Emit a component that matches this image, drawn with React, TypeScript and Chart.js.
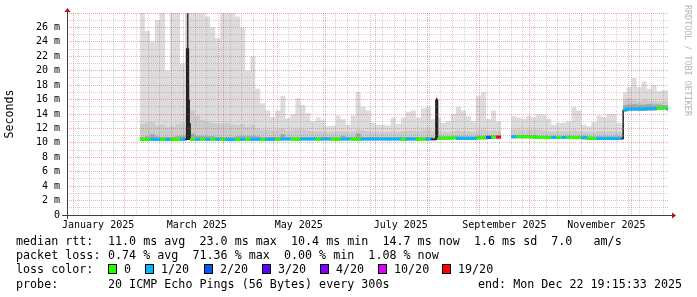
import React, { useEffect, useRef } from "react";
import { Chart, registerables } from "chart.js";

Chart.register(...registerables);

// ---------- data ----------
const dates = [
  "2025-02-10", "2025-02-13", "2025-02-16", "2025-02-19", "2025-02-22", "2025-02-25", "2025-02-28",
  "2025-03-03", "2025-03-06", "2025-03-09", "2025-03-10", "2025-03-11", "2025-03-12", "2025-03-15", "2025-03-18", "2025-03-21", "2025-03-24", "2025-03-27", "2025-03-30",
  "2025-04-02", "2025-04-05", "2025-04-08", "2025-04-11", "2025-04-14", "2025-04-17", "2025-04-20", "2025-04-23", "2025-04-26", "2025-04-29",
  "2025-05-02", "2025-05-05", "2025-05-08", "2025-05-11", "2025-05-14", "2025-05-17", "2025-05-20", "2025-05-23", "2025-05-26", "2025-05-29",
  "2025-06-01", "2025-06-04", "2025-06-07", "2025-06-10", "2025-06-13", "2025-06-16", "2025-06-19", "2025-06-22", "2025-06-25", "2025-06-28",
  "2025-07-01", "2025-07-04", "2025-07-07", "2025-07-10", "2025-07-13", "2025-07-16", "2025-07-19", "2025-07-22", "2025-07-25", "2025-07-28", "2025-07-31",
  "2025-08-03", "2025-08-06", "2025-08-07", "2025-08-09", "2025-08-12", "2025-08-15", "2025-08-18", "2025-08-21", "2025-08-24", "2025-08-27", "2025-08-30",
  "2025-09-02", "2025-09-05", "2025-09-08", "2025-09-11", "2025-09-14", "2025-09-17", "2025-09-20", "2025-09-23", "2025-09-26", "2025-09-29",
  "2025-10-02", "2025-10-05", "2025-10-08", "2025-10-11", "2025-10-14", "2025-10-17", "2025-10-20", "2025-10-23", "2025-10-26", "2025-10-29",
  "2025-11-01", "2025-11-04", "2025-11-07", "2025-11-10", "2025-11-13", "2025-11-16", "2025-11-19", "2025-11-22", "2025-11-25", "2025-11-26", "2025-11-28",
  "2025-12-01", "2025-12-04", "2025-12-07", "2025-12-10", "2025-12-13", "2025-12-16", "2025-12-19", "2025-12-22", "2025-12-22T19:15",
];

// median round trip time (ms)
const medianRtt = [
  10.45, 10.45, 10.5, 10.45, 10.5, 10.45, 10.45,
  10.45, 10.5, 10.5, 23.0, 12.6, 10.5, 10.5, 10.5, 10.5, 10.5, 10.5, 10.45,
  10.45, 10.45, 10.45, 10.5, 10.5, 10.5, 10.5, 10.45, 10.45, 10.5,
  10.5, 10.55, 10.55, 10.5, 10.5, 10.55, 10.55, 10.55, 10.5, 10.55,
  10.55, 10.5, 10.5, 10.55, 10.55, 10.5, 10.5, 10.55, 10.55, 10.55,
  10.55, 10.55, 10.55, 10.55, 10.55, 10.5, 10.55, 10.55, 10.5, 10.5, 10.55,
  10.5, 15.9, 10.6, 10.65, 10.65, 10.7, 10.6, 10.6, 10.6, 10.6, 10.7,
  10.7, 10.75, 10.8, 10.8, 10.8, null, 10.85, 10.85, 10.85, 10.85,
  10.8, 10.75, 10.75, 10.75, 10.75, 10.75, 10.75, 10.75, 10.75, 10.75,
  10.7, 10.6, 10.6, 10.6, 10.6, 10.6, 10.6, 10.6, 10.6, 14.6, 14.7,
  14.7, 14.7, 14.7, 14.75, 14.75, 14.8, 14.8, 14.7, 14.7,
];

// lost pings out of 20
const lossCount = [
  0, 0, 1, 1, 0, 1, 0,
  0, 1, 0, 1, 1, 0, 1, 0, 1, 0, 1, 0,
  1, 1, 0, 1, 0, 1, 1, 0, 1, 1,
  0, 1, 1, 0, 0, 1, 1, 1, 0, 1,
  1, 0, 0, 1, 1, 0, 0, 1, 1, 1,
  1, 1, 1, 1, 1, 0, 1, 1, 0, 0, 1,
  0, 1, 0, 0, 0, 0, 1, 1, 1, 1, 0,
  0, 2, 0, 19, 0, null, 1, 0, 0, 0,
  0, 0, 0, 0, 1, 0, 1, 0, 0, 0,
  1, 0, 0, 1, 1, 1, 1, 1, 1, 1, 1,
  1, 1, 1, 1, 1, 0, 0, 1, 1,
];

// smoke: lowest ping
const smokeLow = [
  10.3, 10.3, 10.3, 10.3, 10.3, 10.3, 10.3,
  10.3, 10.3, 10.3, 10.4, 10.4, 10.3, 10.3, 10.3, 10.3, 10.3, 10.3, 10.3,
  10.3, 10.3, 10.3, 10.3, 10.3, 10.3, 10.3, 10.3, 10.3, 10.3,
  10.3, 10.35, 10.35, 10.3, 10.3, 10.35, 10.35, 10.35, 10.3, 10.35,
  10.35, 10.3, 10.3, 10.35, 10.35, 10.3, 10.3, 10.35, 10.35, 10.35,
  10.35, 10.35, 10.35, 10.35, 10.35, 10.3, 10.35, 10.35, 10.3, 10.3, 10.35,
  10.3, 10.4, 10.4, 10.45, 10.45, 10.5, 10.4, 10.4, 10.4, 10.4, 10.5,
  10.5, 10.55, 10.6, 10.6, 10.6, null, 10.65, 10.65, 10.65, 10.65,
  10.6, 10.55, 10.55, 10.55, 10.55, 10.55, 10.55, 10.55, 10.55, 10.55,
  10.5, 10.4, 10.4, 10.4, 10.4, 10.4, 10.4, 10.4, 10.4, 14.3, 14.45,
  14.45, 14.45, 14.45, 14.5, 14.5, 14.55, 14.55, 14.45, 14.45,
];

// smoke: dense band around the median
const smokeDark = [
  10.8, 10.9, 11.2, 10.9, 10.8, 10.8, 10.8,
  10.9, 11.0, 11.2, 28, 16, 11.3, 11.0, 11.0, 10.9, 10.9, 10.8, 10.8,
  10.8, 10.8, 10.9, 11.0, 10.9, 11.0, 10.9, 10.8, 10.8, 10.8,
  10.8, 11.2, 10.8, 10.8, 10.8, 10.8, 10.8, 10.8, 10.8, 10.8,
  10.8, 10.8, 10.8, 11.0, 10.8, 10.8, 11.3, 10.8, 10.8, 10.8,
  10.8, 10.8, 10.8, 10.8, 10.8, 10.8, 10.8, 10.8, 10.8, 10.8, 10.8,
  10.8, 16.2, 10.9, 10.9, 10.9, 10.9, 11.0, 10.9, 10.9, 10.9, 11.0,
  11.0, 11.1, 11.1, 11.1, 11.1, null, 11.1, 11.1, 11.1, 11.1,
  11.1, 11.0, 11.0, 11.0, 11.0, 11.0, 11.0, 11.0, 11.0, 11.0,
  11.0, 10.9, 10.9, 10.9, 10.9, 10.9, 10.9, 10.9, 10.9, 15.2, 15.3,
  15.4, 15.3, 15.3, 15.4, 15.3, 15.3, 15.2, 15.2, 15.2,
];

// smoke: middle pings
const smokeMid = [
  12.6, 12.8, 12.9, 12.4, 12.5, 12.2, 12.3,
  12.6, 12.8, 13.5, 28, 18, 14.5, 13.8, 13.2, 13.0, 12.8, 12.6, 12.7,
  12.8, 12.5, 12.4, 12.6, 12.2, 12.5, 12.0, 11.8, 11.8, 11.7,
  11.8, 12.0, 11.6, 11.8, 11.9, 11.8, 11.7, 11.6, 11.6, 11.6,
  11.5, 11.5, 11.6, 11.6, 11.5, 11.6, 11.8, 11.7, 11.6, 11.5,
  11.5, 11.5, 11.5, 11.6, 11.5, 11.6, 11.7, 11.7, 11.6, 11.8, 11.8,
  11.6, 16.2, 11.6, 11.5, 11.5, 11.6, 11.7, 11.6, 11.6, 11.5, 11.7,
  11.8, 11.6, 11.7, 11.6, 11.7, null, 11.8, 11.8, 11.7, 11.8,
  11.8, 11.8, 11.7, 11.6, 11.5, 11.6, 11.6, 11.6, 11.7, 11.6,
  11.5, 11.5, 11.5, 11.6, 11.6, 11.6, 11.6, 11.5, 11.5, 16.0, 16.2,
  16.0, 15.8, 16.0, 15.9, 15.8, 15.7, 15.8, 15.7, 15.7,
];

// smoke: highest ping
const smokeMax = [
  28, 25.5, 24, 27, 28, 20, 28,
  28, 21, 28, 28, 28, 28, 28, 28, 27.5, 26, 24.5, 28,
  28, 28, 27.5, 26, 20, 22, 17.5, 15.5, 14.5, 13.6,
  14.5, 16.5, 13.4, 14, 16.2, 15.2, 14.1, 13, 13.5, 13.2,
  12.3, 12.4, 13.8, 13.3, 12.5, 13.8, 17, 15, 14.5, 12.8,
  12.5, 12.5, 12.4, 13.5, 12.6, 13.5, 14.3, 14.5, 13.5, 14.8, 15,
  13.3, 16.6, 13.5, 12.8, 13, 14, 15, 14.5, 13.7, 13, 16.5,
  17, 13.3, 14.5, 13, 14.2, null, 13.7, 13.5, 13.3, 13.7,
  13.5, 14, 13.9, 13.3, 12.5, 12.8, 12.8, 13, 15, 14.5,
  12.5, 12.3, 12.9, 13.8, 13.6, 14, 14, 12.8, 12.5, 17, 17.7,
  19, 17.7, 18.5, 17.5, 18, 17.2, 17.3, 17.3, 17.3,
];

// axis
const rangeStart = "2024-12-28T09:36";
const rangeEnd = "2025-12-22T19:15";
const firstWeekLine = "2025-01-04";
const monthStarts = [
  "2025-01-01", "2025-02-01", "2025-03-01", "2025-04-01", "2025-05-01", "2025-06-01",
  "2025-07-01", "2025-08-01", "2025-09-01", "2025-10-01", "2025-11-01", "2025-12-01",
];
const monthLabelDates = ["2025-01-16", "2025-03-16", "2025-05-16", "2025-07-16", "2025-09-16", "2025-11-16"];
const monthLabelTexts = ["January 2025", "March 2025", "May 2025", "July 2025", "September 2025", "November 2025"];
const yMax = 28;

// legend
const lossBuckets = [0, 1, 2, 3, 4, 10, 19];
const lossBucketLabels = ["0", "1/20", "2/20", "3/20", "4/20", "10/20", "19/20"];
const lossBucketColors = ["#26ff00", "#00b8ff", "#0059ff", "#5e00ff", "#7e00ff", "#dd00ff", "#ff0000"];
const rttStats = ["11.0 ms avg", "23.0 ms max", "10.4 ms min", "14.7 ms now", "1.6 ms sd", "7.0   am/s"];
const lossStats = ["0.74 % avg", "71.36 % max", "0.00 % min", "1.08 % now"];
const probeText = "20 ICMP Echo Pings (56 Bytes) every 300s";
const endText = "end: Mon Dec 22 19:15:33 2025";

// ---------- helpers ----------
const DAY = 86400000;
const T0 = Date.UTC(2025, 0, 1);
const dayOf = (s: string) => {
  const iso = s.length === 10 ? s + "T00:00:00Z" : s + ":00Z";
  return (Date.parse(iso) - T0) / DAY;
};
const lossColor = (n: number | null) => {
  if (n === null || n === undefined) return "rgba(0,0,0,0)";
  let c = lossBucketColors[0];
  for (let i = 0; i < lossBuckets.length; i++) if (n >= lossBuckets[i]) c = lossBucketColors[i];
  return c;
};

const MONO = '"DejaVu Sans Mono", monospace';

// layout constants (pixels)
const LEG_FONT = 11.7;
const legendRows = [241, 255, 269, 284];
const valueColX = 108;
const swatchX = [108, 145, 204, 262, 320, 378, 442];
const endX = 478;

export default function App() {
  const ref = useRef<HTMLCanvasElement | null>(null);

  useEffect(() => {
    const canvas = ref.current;
    if (!canvas) return;
    const xs = dates.map(dayOf);
    const pts = (arr: (number | null)[]) => arr.map((v, i) => ({ x: xs[i], y: v }));
    const xMin = dayOf(rangeStart);
    const xMax = dayOf(rangeEnd);

    const monthDays = monthStarts.map(dayOf);
    const labelDays = monthLabelDates.map(dayOf);
    const weekDays: number[] = [];
    for (let d = dayOf(firstWeekLine); d <= xMax; d += 7) weekDays.push(d);
    const tickSet = new Set<number>([...weekDays, ...monthDays, ...labelDays].filter((d) => d > xMin && d < xMax));
    const xTicks = Array.from(tickSet).sort((a, b) => a - b);
    const near = (a: number[], v: number) => a.findIndex((d) => Math.abs(d - v) < 1e-6);

    const GRID_MAJOR = "rgba(215,70,70,0.45)";
    const GRID_MINOR = "rgba(130,130,130,0.36)";

    const axesPlugin = {
      id: "rrdAxes",
      afterDraw(chart: any) {
        const { ctx, chartArea: a } = chart;
        const x0 = Math.round(a.left) + 0.5;
        const y0 = Math.round(a.bottom) + 0.5;
        ctx.save();
        ctx.setLineDash([]);
        ctx.strokeStyle = "#404040";
        ctx.lineWidth = 1;
        ctx.beginPath();
        ctx.moveTo(a.left - 5, y0);
        ctx.lineTo(a.right + 4, y0);
        ctx.moveTo(x0, a.bottom + 4);
        ctx.lineTo(x0, a.top - 2);
        ctx.stroke();
        ctx.fillStyle = "#a81818";
        ctx.beginPath();
        ctx.moveTo(a.right + 4, y0 - 3);
        ctx.lineTo(a.right + 8, y0);
        ctx.lineTo(a.right + 4, y0 + 3);
        ctx.closePath();
        ctx.fill();
        ctx.beginPath();
        ctx.moveTo(x0 - 3, a.top - 1);
        ctx.lineTo(x0, a.top - 5);
        ctx.lineTo(x0 + 3, a.top - 1);
        ctx.closePath();
        ctx.fill();
        ctx.restore();
      },
    };

    const chart = new Chart(canvas, {
      type: "line",
      data: {
        datasets: [
          {
            label: "median",
            data: pts(medianRtt),
            stepped: true,
            borderWidth: 3,
            borderColor: "#00b8ff",
            pointRadius: 0,
            fill: false,
            spanGaps: false,
            segment: {
              borderColor: (c: any) => {
                const a = c.p0.parsed.y;
                const b = c.p1.parsed.y;
                if (Math.abs(b - a) > 1.5) return "#202020";
                return lossColor(lossCount[c.p0DataIndex]);
              },
              borderWidth: (c: any) => (Math.abs(c.p1.parsed.y - c.p0.parsed.y) > 1.5 ? 1.5 : 3),
            },
          },
          {
            label: "smokeDark",
            data: pts(smokeDark),
            stepped: true,
            borderWidth: 0,
            pointRadius: 0,
            backgroundColor: "#a8a8a8",
            fill: 4,
            spanGaps: false,
            segment: {
              backgroundColor: (c: any) => {
                const i = c.p0DataIndex;
                const hi = smokeDark[i];
                const lo = smokeLow[i];
                return hi !== null && lo !== null && hi - lo > 4 ? "#2e2e2e" : "#a8a8a8";
              },
            },
          },
          {
            label: "smokeMid",
            data: pts(smokeMid),
            stepped: true,
            borderWidth: 0,
            pointRadius: 0,
            backgroundColor: "#cbcbcb",
            fill: 4,
            spanGaps: false,
          },
          {
            label: "smokeMax",
            data: pts(smokeMax),
            stepped: true,
            borderWidth: 0,
            pointRadius: 0,
            backgroundColor: "#dcdcdc",
            fill: 4,
            spanGaps: false,
          },
          {
            label: "smokeLow",
            data: pts(smokeLow),
            stepped: true,
            borderWidth: 0,
            pointRadius: 0,
            fill: false,
            spanGaps: false,
          },
        ],
      },
      options: {
        responsive: false,
        devicePixelRatio: 1,
        animation: false,
        events: [],
        layout: { padding: { top: 12.6, right: 29, bottom: 0, left: 0 } },
        plugins: {
          legend: { display: false },
          tooltip: { enabled: false },
        },
        scales: {
          x: {
            type: "linear",
            min: xMin,
            max: xMax,
            bounds: "data",
            afterBuildTicks: (s: any) => {
              s.ticks = xTicks.map((v) => ({ value: v }));
            },
            afterFit: (s: any) => {
              s.height = 82;
            },
            grid: {
              z: 1,
              lineWidth: 1,
              drawTicks: false,
              color: (c: any) => {
                const v = c.tick ? c.tick.value : NaN;
                if (near(monthDays, v) >= 0) return GRID_MAJOR;
                if (near(weekDays, v) >= 0) return GRID_MINOR;
                return "rgba(0,0,0,0)";
              },
            },
            border: { display: false, dash: [1, 1] },
            ticks: {
              autoSkip: false,
              maxRotation: 0,
              minRotation: 0,
              padding: 4,
              color: "#000",
              font: { family: MONO, size: 10 },
              callback: (v: any) => {
                const i = near(labelDays, Number(v));
                return i >= 0 ? monthLabelTexts[i] : "";
              },
            },
          },
          y: {
            type: "linear",
            min: 0,
            max: yMax,
            afterFit: (s: any) => {
              s.width = 67;
            },
            grid: {
              z: 1,
              lineWidth: 1,
              drawTicks: false,
              color: (c: any) => {
                const v = c.tick ? Math.round(c.tick.value) : 1;
                if (v === 0) return "rgba(0,0,0,0)";
                return v % 2 === 0 ? GRID_MAJOR : GRID_MINOR;
              },
            },
            border: { display: false, dash: [1, 1] },
            ticks: {
              stepSize: 1,
              autoSkip: false,
              padding: 7,
              color: "#000",
              font: { family: MONO, size: 10 },
              callback: (v: any) => {
                const n = Math.round(Number(v));
                if (n % 2 !== 0 || n >= yMax) return "";
                return n === 0 ? "0" : `${n} m`;
              },
            },
            title: {
              display: true,
              text: "Seconds",
              color: "#000",
              font: { family: MONO, size: 11.6 },
              padding: { top: 3, bottom: 0 },
            },
          },
        },
      },
      plugins: [axesPlugin],
    } as any);
    return () => chart.destroy();
  }, []);

  const txt = (left: number, row: number, s: string, key: string) => (
    <span
      key={key}
      style={{
        position: "absolute",
        left,
        top: row - 7,
        lineHeight: "14px",
        whiteSpace: "pre",
        fontFamily: MONO,
        fontSize: LEG_FONT,
        color: "#000",
      }}
    >
      {s}
    </span>
  );

  return (
    <div
      style={{
        position: "fixed",
        left: 0,
        top: 0,
        width: 697,
        height: 297,
        background: "#ffffff",
        overflow: "hidden",
      }}
    >
      <canvas ref={ref} width={697} height={297} style={{ position: "absolute", left: 0, top: 0, width: 697, height: 297 }} />
      <div
        style={{
          position: "absolute",
          left: 683,
          top: 5,
          writingMode: "vertical-rl",
          fontFamily: MONO,
          fontSize: 8.4,
          lineHeight: "10px",
          color: "#b4b4b4",
          whiteSpace: "pre",
        }}
      >
        RRDTOOL / TOBI OETIKER
      </div>
      {txt(16, legendRows[0], "median rtt:", "m0")}
      {txt(valueColX, legendRows[0], rttStats.join("  "), "m1")}
      {txt(16, legendRows[1], "packet loss:", "p0")}
      {txt(valueColX, legendRows[1], lossStats.join("  "), "p1")}
      {txt(16, legendRows[2], "loss color:", "c0")}
      {lossBucketLabels.map((s, i) => (
        <React.Fragment key={"cs" + i}>
          <span
            style={{
              position: "absolute",
              left: swatchX[i],
              top: legendRows[2] - 5,
              width: 9,
              height: 10,
              boxSizing: "border-box",
              border: "1px solid #000",
              background: lossBucketColors[i],
            }}
          />
          {txt(swatchX[i] + 16, legendRows[2], s, "cl" + i)}
        </React.Fragment>
      ))}
      {txt(16, legendRows[3], "probe:", "r0")}
      {txt(valueColX, legendRows[3], probeText, "r1")}
      {txt(endX, legendRows[3], endText, "r2")}
    </div>
  );
}
